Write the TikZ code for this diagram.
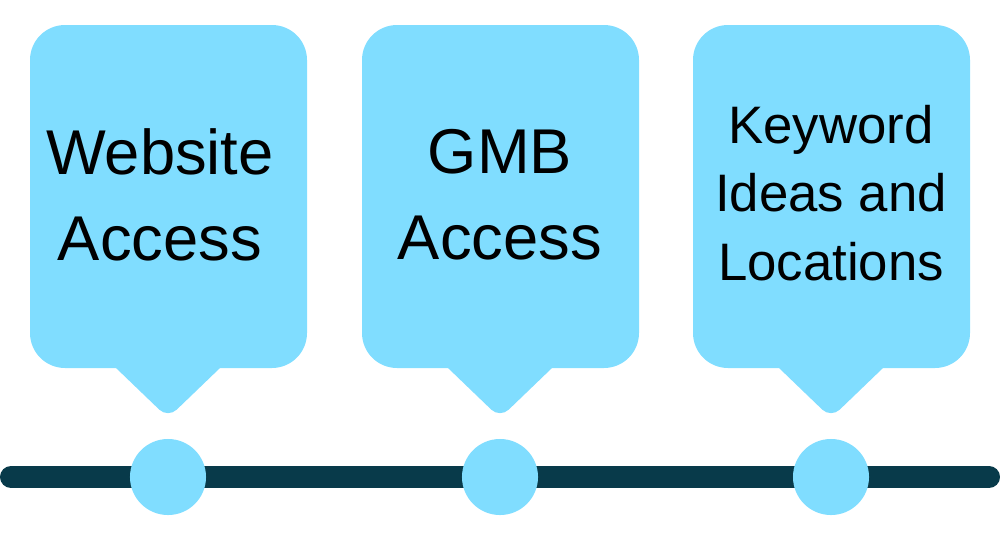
\documentclass[tikz,border=0pt]{standalone}
\usepackage{fontspec}
\setmainfont{Liberation Sans}
\begin{document}
\begin{tikzpicture}[x=0.01cm,y=-0.01cm]
\definecolor{bub}{HTML}{80DDFF}
\definecolor{bar}{HTML}{083A4A}
\tikzset{box/.style={fill=bub,rounded corners=0.35cm},
 ptr/.style={fill=bub,rounded corners=0.12cm},
 dot/.style={circle,fill=bub,minimum size=0.76cm,inner sep=0},
 big/.style={align=center,font=\fontsize{18pt}{24.5pt}\selectfont},
 small/.style={align=center,font=\fontsize{15pt}{19.5pt}\selectfont}}
\useasboundingbox (0,0) rectangle (1000,533);
\foreach \cx in {168,500,831}{
  \fill[box] (\cx-138,25) rectangle (\cx+139,368);
  \fill[ptr] (\cx-60,360) -- (\cx-52,368) -- (\cx,418) -- (\cx+52,368) -- (\cx+60,360) -- cycle;
}
\draw[bar,line width=0.22cm,line cap=round] (11,477) -- (989,477);
\node[dot] (c1) at (168,477) {};
\node[dot] (c2) at (500,477) {};
\node[dot] (c3) at (831,477) {};
\node[big] (t1) at (160,195) {Website\\Access};
\node[big] (t2) at (500,195) {GMB\\Access};
\node[small] (t3) at (831,193) {Keyword\\Ideas and\\Locations};
\end{tikzpicture}
\end{document}
